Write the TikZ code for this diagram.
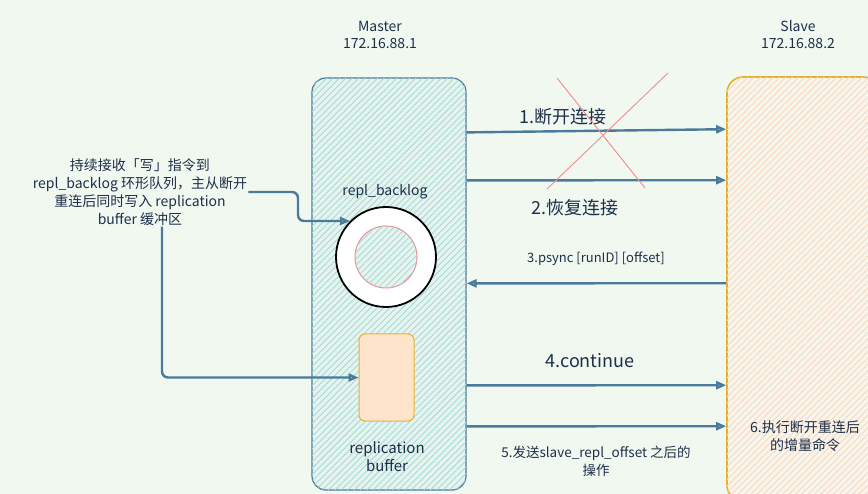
\documentclass[tikz,border=0pt]{standalone}
\usepackage{fontspec}
\setmainfont{Noto Sans CJK SC}
\usetikzlibrary{arrows.meta,patterns.meta}
\definecolor{bgc}{HTML}{F0F8EF}
\definecolor{ink}{HTML}{1F2F4A}
\definecolor{linkc}{HTML}{4A7A9C}
\definecolor{mfill}{HTML}{E6F4F0}
\definecolor{mhatch}{HTML}{A9D9D3}
\definecolor{sfill}{HTML}{F7F5EC}
\definecolor{shatch}{HTML}{F8D9BF}
\definecolor{sline}{HTML}{E6B12E}
\definecolor{bufc}{HTML}{FFE4CC}
\definecolor{crossc}{HTML}{EE8E90}
\begin{document}
\begin{tikzpicture}[x=1pt,y=-1pt,
  link/.style={draw=linkc,line width=2.4pt,-{Triangle[open,length=10pt,width=8pt]}},
  lbl/.style={text=ink,align=center,inner sep=1pt}]
\useasboundingbox[fill=bgc] (0,0) rectangle (868,494);

% hosts
\node[lbl,font=\fontsize{14}{17}\selectfont] (mname) at (380,35) {Master\\172.16.88.1};
\node[lbl,font=\fontsize{14}{17}\selectfont] (sname) at (798,35) {Slave\\172.16.88.2};

\node[draw=linkc,line width=1.2pt,rounded corners=14pt,fill=mfill,
  postaction={pattern={Lines[angle=45,distance=4.5pt,line width=0.9pt]},pattern color=mhatch},
  minimum width=154pt,minimum height=412pt] (master) at (389,284) {};
\node[draw=sline,line width=1.6pt,rounded corners=16pt,fill=sfill,
  postaction={pattern={Lines[angle=45,distance=4.5pt,line width=0.9pt]},pattern color=shatch},
  minimum width=152pt,minimum height=424pt] (slave) at (803,289) {};

% inside master
\node[lbl,font=\fontsize{14}{16}\selectfont] (blog) at (385,192) {repl\_backlog};
\node[circle,draw=black,line width=1.8pt,fill=white,minimum size=100pt] (ring) at (386,257) {};
\node[circle,draw=crossc,line width=1pt,fill=mfill,
  postaction={pattern={Lines[angle=45,distance=4.5pt,line width=0.9pt]},pattern color=mhatch},
  minimum size=62pt] (hole) at (386,257) {};
\node[draw=sline,line width=1pt,rounded corners=6pt,fill=bufc,
  minimum width=55pt,minimum height=87pt] (buf) at (386.5,377.5) {};
\node[lbl,font=\fontsize{15}{18}\selectfont] (bname) at (387,457) {replication\\buffer};

% left note
\node[lbl,font=\fontsize{14}{18}\selectfont] (note) at (140,192)
  {持续接收「写」指令到\\repl\_backlog 环形队列，主从断开\\重连后同时写入 replication\\buffer 缓冲区};
\draw[link,rounded corners=6pt] (note.east) -| ([xshift=-52pt]ring.135) -- (ring.135);
\draw[link,rounded corners=6pt] ([xshift=22pt]note.south) |- (buf.west);

% messages
\draw[link] ([yshift=-55pt]master.north east) -- ([yshift=-53pt]slave.north west);
\draw[link] ([yshift=-103pt]master.north east) -- ([yshift=-104pt]slave.north west);
\draw[link] ([yshift=-207pt]slave.north west) -- ([yshift=-206pt]master.north east);
\draw[link] ([yshift=-308pt]master.north east) -- ([yshift=-309pt]slave.north west);
\draw[link] ([yshift=-349pt]master.north east) -- ([yshift=-350pt]slave.north west);

\node[lbl,font=\fontsize{18}{20}\selectfont] (m1) at (563,117) {1.断开连接};
\node[lbl,font=\fontsize{18}{20}\selectfont] (m2) at (575,208) {2.恢复连接};
\node[lbl,font=\fontsize{13}{16}\selectfont] (m3) at (596,259) {3.psync [runID] [offset]};
\node[lbl,font=\fontsize{18}{20}\selectfont] (m4) at (590,361) {4.continue};
\node[lbl,font=\fontsize{13.5}{18}\selectfont] (m5) at (596,461) {5.发送slave\_repl\_offset 之后的\\操作};
\node[lbl,font=\fontsize{14}{18}\selectfont] (m6) at (805,436) {6.执行断开重连后\\的增量命令};

% cross over the broken link
\draw[crossc,line width=0.9pt] (557,78) -- (645,188);
\draw[crossc,line width=0.9pt] (668,73) -- (547,189);
\end{tikzpicture}
\end{document}
